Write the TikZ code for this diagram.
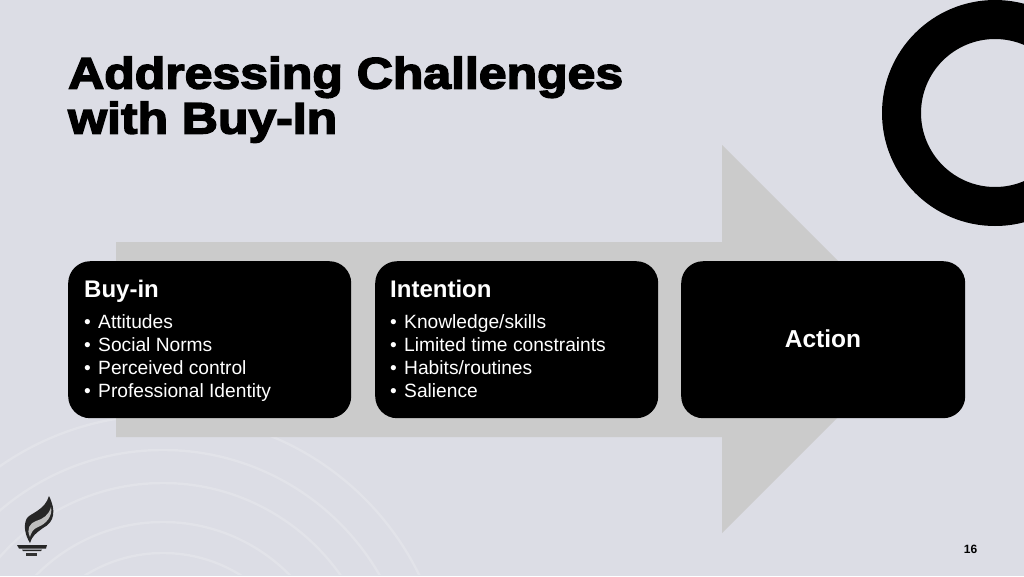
\documentclass[tikz,border=0pt]{standalone}
\usepackage{fontspec}
\setmainfont{Liberation Sans}
\newfontfamily\titlefont[BoldFont={Liberation Sans Bold},BoldFeatures={FakeBold=3.5,FakeStretch=1.135}]{Liberation Sans}
\definecolor{bgc}{HTML}{DCDDE5}
\definecolor{arrowc}{HTML}{CBCBCB}
\definecolor{ripple}{HTML}{E2E3E9}
\tikzset{
  card/.style={fill=black,rounded corners=22pt,minimum height=157pt,inner sep=0pt,anchor=north west},
  cardhead/.style={text=white,font=\fontsize{24}{28}\selectfont\bfseries,anchor=base west,inner sep=0pt},
  cardlist/.style={text=white,font=\fontsize{19.2}{23}\selectfont,anchor=north west,inner sep=0pt,align=left},
  rippleline/.style={draw=ripple,line width=2.4pt,fill=none},
  title/.style={font=\titlefont\bfseries\fontsize{44}{45}\selectfont,anchor=base west,inner sep=0pt,align=left,text=black}
}
\newcommand{\bul}[1]{\makebox[14pt][l]{\textbullet}#1}
\begin{document}
\begin{tikzpicture}[x=1pt,y=-1pt]
\useasboundingbox (0,0) rectangle (1024,576);
\fill[bgc] (0,0) rectangle (1024,576);
% ripples
\begin{scope}
\clip (0,400) rectangle (1024,574);
\foreach \r in {147,178,217,250,285}{
  \draw[rippleline] (163,700) circle (\r);
}
\end{scope}
% ring
\fill[black,even odd rule] (995,113) circle (113) (995,113) circle (74);
% big arrow
\fill[arrowc] (116,242) -- (722,242) -- (722,145) -- (916,339) -- (722,533) -- (722,437) -- (116,437) -- cycle;
% title
\node[title] (ttl) at (68,133.5) {Addressing Challenges\\with Buy-In};
% cards
\node[card,minimum width=283pt] (c1) at (68,261) {};
\node[card,minimum width=283pt] (c2) at (375,261) {};
\node[card,minimum width=284pt] (c3) at (681,261) {};
\node[cardhead] (h1) at (84,297) {Buy-in};
\node[cardlist] (l1) at (84,314.5) {\bul{Attitudes}\\\bul{Social Norms}\\\bul{Perceived control}\\\bul{Professional Identity}};
\node[cardhead] (h2) at (390,297) {Intention};
\node[cardlist] (l2) at (390,314.5) {\bul{Knowledge/skills}\\\bul{Limited time constraints}\\\bul{Habits/routines}\\\bul{Salience}};
\node[cardhead,anchor=center,font=\fontsize{24.5}{28}\selectfont\bfseries] (h3) at (823,339) {Action};
% logo
\fill[black!85] (17,545) -- (47,545) -- (46,548.5) -- (19,548.5) -- cycle;
\fill[black!85] (22,549.5) -- (42,549.5) -- (41,551) -- (23,551) -- cycle;
\fill[black!80] (26,553) rectangle (37,556);
\fill[black!85] (49,496) .. controls (56,510) and (55,522) .. (43,528) .. controls (36,533) and (32,536) .. (30,543) .. controls (25,535) and (23,525) .. (27,518) .. controls (31,513) and (45,510) .. (49,496) -- cycle;
\fill[black!25] (51,507) .. controls (53,516) and (46,524) .. (38,527) .. controls (33,529) and (31,533) .. (30,537) .. controls (26,529) and (30,523) .. (36,521) .. controls (43,519) and (49,515) .. (51,507) -- cycle;
\node[font=\fontsize{12}{14}\selectfont\bfseries,inner sep=0pt] (pg) at (970.5,549.5) {16};
\end{tikzpicture}
\end{document}
